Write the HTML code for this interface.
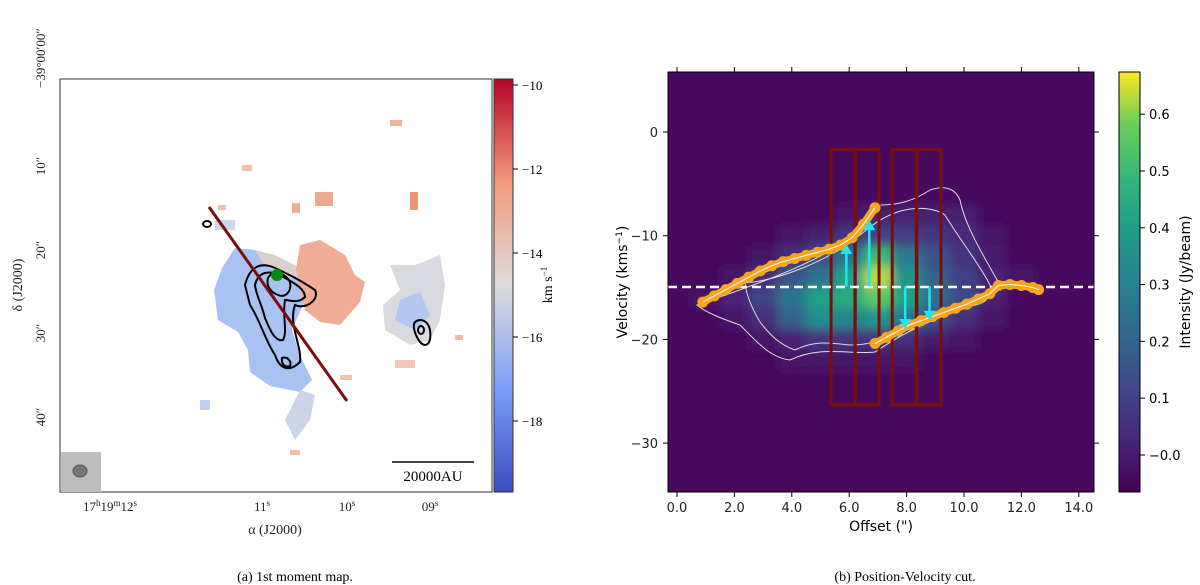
<!DOCTYPE html>
<html><head><meta charset="utf-8"><style>
body{margin:0;background:#fff;}
svg{display:block;}
.serif{font-family:"Liberation Serif","DejaVu Serif",serif;}
.sans{font-family:"DejaVu Sans","Liberation Sans",sans-serif;}
</style></head><body>
<svg id="fig" width="1200" height="585" viewBox="0 0 1200 585" xmlns="http://www.w3.org/2000/svg">
<defs>
<linearGradient id="cw" x1="0" y1="1" x2="0" y2="0">
<stop offset="0" stop-color="#3b4cc0"/><stop offset="0.25" stop-color="#7b9ff9"/><stop offset="0.5" stop-color="#dddcdc"/><stop offset="0.75" stop-color="#f49a7b"/><stop offset="1" stop-color="#b40426"/></linearGradient>
<linearGradient id="vir" x1="0" y1="1" x2="0" y2="0">
<stop offset="0" stop-color="#440154"/><stop offset="0.13" stop-color="#482878"/><stop offset="0.25" stop-color="#3e4989"/><stop offset="0.38" stop-color="#31688e"/><stop offset="0.5" stop-color="#26828e"/><stop offset="0.63" stop-color="#1f9e89"/><stop offset="0.75" stop-color="#35b779"/><stop offset="0.88" stop-color="#6ece58"/><stop offset="1" stop-color="#fde725"/></linearGradient>
<filter id="blur" x="-20%" y="-20%" width="140%" height="140%"><feGaussianBlur stdDeviation="5"/></filter>
<clipPath id="pvclip"><rect x="668" y="72" width="426" height="420"/></clipPath>
</defs>

<!-- LEFT PANEL -->
<g>
<rect x="60" y="79" width="432" height="413" fill="#fff" stroke="#333" stroke-width="1"/>
<g>
<path d="M235,248 L255,250 L270,262 L300,275 L305,300 L292,330 L300,355 L312,380 L300,392 L270,386 L250,372 L248,350 L238,332 L218,320 L214,290 L222,268 Z" fill="#a9c2f4"/>
<path d="M255,250 L275,255 L300,268 L300,280 L280,275 L262,262 Z" fill="#dcd0cc"/>
<path d="M300,245 L320,240 L345,255 L355,275 L365,282 L360,302 L340,325 L320,322 L305,310 L300,290 L296,270 Z" fill="#f0ad95"/>
<path d="M390,265 L415,265 L440,255 L445,285 L440,320 L430,340 L410,345 L385,330 L383,305 L400,290 Z" fill="#d9dae0"/>
<path d="M400,300 L420,292 L430,315 L415,330 L395,320 Z" fill="#b3c7f0"/>
<path d="M300,390 L315,395 L310,420 L295,440 L285,420 Z" fill="#cbd4ea"/>
<rect x="315" y="192" width="18" height="14" fill="#f0a88e"/>
<rect x="410" y="192" width="8" height="18" fill="#e89478"/>
<rect x="292" y="203" width="8" height="10" fill="#f0b098"/>
<rect x="242" y="165" width="10" height="6" fill="#f4c0aa"/>
<rect x="218" y="205" width="8" height="5" fill="#f4c0aa"/>
<rect x="215" y="220" width="20" height="10" fill="#cdd8f0"/>
<rect x="340" y="375" width="12" height="5" fill="#f4c4b0"/>
<rect x="395" y="360" width="20" height="8" fill="#f0c8b6"/>
<rect x="290" y="450" width="10" height="5" fill="#f2c0aa"/>
<rect x="200" y="400" width="10" height="10" fill="#c0cef0"/>
<rect x="390" y="120" width="12" height="6" fill="#f0b49c"/>
<rect x="455" y="335" width="8" height="5" fill="#f2bca6"/>
</g>
<g fill="none" stroke="#000" stroke-width="2">
<path d="M245,285 C250,265 262,262 275,268 C290,275 300,280 315,290 C320,300 305,310 295,305 C288,325 302,345 300,362 C290,372 280,370 275,355 C265,340 260,320 250,305 Z"/>
<path d="M255,285 C258,272 268,270 280,275 C292,282 305,288 305,297 C298,304 290,300 285,300 C282,318 288,330 283,340 C275,342 270,330 265,318 C262,305 256,295 255,285 Z"/>
<path d="M268,278 C272,270 285,272 290,282 C292,292 285,298 278,295 C270,292 266,285 268,278 Z"/>
<path d="M282,358 C288,356 292,362 290,366 C285,368 281,364 282,358 Z"/>
<path d="M415,322 C420,318 428,320 430,330 C432,345 425,348 420,342 C415,335 412,326 415,322 Z"/>
<ellipse cx="421" cy="330" rx="3" ry="4"/>
<ellipse cx="207" cy="224" rx="4" ry="3"/>
</g>
<line x1="209" y1="207" x2="347" y2="401" stroke="#7a0e0a" stroke-width="3"/>
<circle cx="277" cy="275" r="6" fill="#0a8a0a"/>
<rect x="61" y="452" width="40" height="40" fill="#bdbdbd"/>
<ellipse cx="80" cy="471" rx="7" ry="6" fill="#777" stroke="#555"/>
<line x1="392" y1="462" x2="474" y2="462" stroke="#000" stroke-width="1.5"/>
<text x="433" y="481" class="serif" font-size="15" text-anchor="middle">20000AU</text>
<g class="serif" font-size="13" fill="#222">
<text x="110" y="511" text-anchor="middle">17<tspan font-size="9" dy="-5">h</tspan><tspan dy="5">19</tspan><tspan font-size="9" dy="-5">m</tspan><tspan dy="5">12</tspan><tspan font-size="9" dy="-5">s</tspan></text>
<text x="262" y="511" text-anchor="middle">11<tspan font-size="9" dy="-5">s</tspan></text>
<text x="347" y="511" text-anchor="middle">10<tspan font-size="9" dy="-5">s</tspan></text>
<text x="430" y="511" text-anchor="middle">09<tspan font-size="9" dy="-5">s</tspan></text>
<text x="275" y="534" text-anchor="middle" font-size="14">α (J2000)</text>
</g>
<g class="serif" font-size="13" fill="#222">
<text transform="translate(45,88) rotate(-90)">−39°00′00″</text>
<text transform="translate(45,166) rotate(-90)" text-anchor="middle">10″</text>
<text transform="translate(45,250) rotate(-90)" text-anchor="middle">20″</text>
<text transform="translate(45,333) rotate(-90)" text-anchor="middle">30″</text>
<text transform="translate(45,417) rotate(-90)" text-anchor="middle">40″</text>
<text transform="translate(22,285) rotate(-90)" text-anchor="middle" font-size="14">δ (J2000)</text>
</g>
<rect x="494" y="79" width="19" height="413" fill="url(#cw)" stroke="#333"/>
<g id="cbL" class="serif" font-size="13"></g>
<text transform="translate(552,285) rotate(-90)" class="serif" font-size="14" text-anchor="middle">km s<tspan font-size="9" dy="-5">−1</tspan></text>
<text x="295" y="581" class="serif" font-size="14" text-anchor="middle">(a) 1st moment map.</text>
</g>

<!-- RIGHT PANEL -->
<g>
<g clip-path="url(#pvclip)">
<rect x="668" y="72" width="426" height="420" fill="#46095e"/>
<g id="heat" filter="url(#blur)"></g>
<path d="M697,305 C740,290 800,270 840,245 C860,230 870,215 880,205 C900,205 915,200 930,190 C945,185 955,188 960,200 C965,225 980,250 1000,285 C995,298 975,305 960,310 C930,320 900,335 875,352 C850,355 820,345 790,360 C770,358 755,340 740,325 C720,318 705,312 697,305 Z" fill="none" stroke="#ddd" stroke-width="1"/>
<path d="M745,283 C780,280 830,260 860,235 C875,222 890,213 905,210 C920,207 935,208 945,215 C960,240 980,265 990,285 C992,298 985,303 975,305 C950,312 920,318 900,325 C885,335 880,345 850,345 C830,343 815,340 795,350 C780,345 770,335 760,322 C750,305 746,293 745,283 Z" fill="none" stroke="#ddd" stroke-width="1"/>
<g id="pvmarks"></g>
</g>
<rect x="668" y="72" width="426" height="420" fill="none" stroke="#000" stroke-width="1"/>
<g id="pvaxes" class="sans" font-size="13" fill="#222"></g>
<text x="881" y="531" class="sans" font-size="14" text-anchor="middle">Offset (")</text>
<text transform="translate(627,282) rotate(-90)" class="sans" font-size="14" text-anchor="middle">Velocity (kms<tspan font-size="9" dy="-5">−1</tspan><tspan dy="5">)</tspan></text>
<rect x="1119" y="72" width="21" height="420" fill="url(#vir)" stroke="#000"/>
<g id="cbR" class="sans" font-size="13"></g>
<text transform="translate(1190,282) rotate(-90)" class="sans" font-size="14" text-anchor="middle">Intensity (Jy/beam)</text>
<text x="905" y="581" class="serif" font-size="14" text-anchor="middle">(b) Position-Velocity cut.</text>
</g>
</svg>
<script>
// ---- data ----
const velTicksL = [-10,-12,-14,-16,-18];
const offTicks = [0,2,4,6,8,10,12,14];
const velTicks = [0,-10,-20,-30];
const intTicks = [0.0,0.1,0.2,0.3,0.4,0.5,0.6];
const heatVel = [-8,-10,-12,-14,-16,-18,-20,-22];
const heatOff = [1,2,3,4,5,6,7,8,9,10,11,12];
const heatRows = [
 [0,0,0,0,0,0.03,0.05,0.05,0.05,0.05,0,0],
 [0,0,0,0.02,0.05,0.1,0.14,0.12,0.1,0.07,0.03,0],
 [0,0,0.03,0.08,0.16,0.28,0.5,0.3,0.18,0.1,0.04,0],
 [0,0.02,0.08,0.18,0.28,0.42,0.62,0.38,0.22,0.13,0.06,0.02],
 [0.02,0.06,0.14,0.28,0.42,0.45,0.55,0.42,0.26,0.15,0.06,0],
 [0,0.03,0.08,0.22,0.36,0.33,0.38,0.28,0.17,0.08,0.02,0],
 [0,0,0.02,0.06,0.1,0.1,0.1,0.08,0.04,0.02,0,0],
 [0,0,0,0.02,0.03,0.03,0.03,0.02,0,0,0,0]];
const upperOff = [0.9,1.3,1.7,2.1,2.5,2.9,3.3,3.7,4.1,4.5,4.9,5.3,5.7,6.1,6.5,6.9];
const upperVel = [-16.4,-15.8,-15.2,-14.6,-14.0,-13.4,-12.9,-12.5,-12.2,-11.9,-11.6,-11.3,-10.9,-10.2,-8.9,-7.3];
const lowerOff = [6.9,7.3,7.7,8.1,8.5,8.9,9.3,9.7,10.1,10.5,10.9,11.2,11.6,12.0,12.4,12.6];
const lowerVel = [-20.4,-19.8,-19.2,-18.6,-18.2,-17.8,-17.4,-17.0,-16.6,-16.1,-15.6,-14.8,-14.7,-14.8,-15.0,-15.2];
const boxOff = [5.37,6.2,7.5,8.36];
const boxWidth = 0.84;
const boxVelTop = -1.7, boxVelBottom = -26.3;
const arrowOff = [5.9,6.7,7.95,8.8];
const arrowFrom = [-14.9,-14.9,-14.9,-14.9];
const arrowTo = [-10.8,-8.5,-19.0,-18.2];
const sysVel = -14.95;

const NS='http://www.w3.org/2000/svg';
function mk(tag, attrs, parent){const e=document.createElementNS(NS,tag);for(const k in attrs)e.setAttribute(k,attrs[k]);parent.appendChild(e);return e;}
const X = o => 677 + o*28.7;
const Y = v => 132 - v*10.37;
const Ycl = v => 85 + (-10 - v)*42;
const Yci = i => 455 - i*568;
const vstops=[[0,'#440154'],[0.13,'#482878'],[0.25,'#3e4989'],[0.38,'#31688e'],[0.5,'#26828e'],[0.63,'#1f9e89'],[0.75,'#35b779'],[0.88,'#6ece58'],[1,'#fde725']];
function hex(h){return [1,3,5].map(i=>parseInt(h.substr(i,2),16));}
function viridis(i){let t=(i+0.02)/0.68;t=Math.max(0,Math.min(1,t));for(let k=1;k<vstops.length;k++){if(t<=vstops[k][0]){const a=vstops[k-1],b=vstops[k];const f=(t-a[0])/(b[0]-a[0]);const ca=hex(a[1]),cb=hex(b[1]);return 'rgb('+ca.map((c,j)=>Math.round(c+(cb[j]-c)*f)).join(',')+')';}}return vstops[8][1];}

// left colorbar ticks
const cbL=document.getElementById('cbL');
velTicksL.forEach(v=>{
 const t=mk('line',{x1:513,x2:518,y1:Ycl(v),y2:Ycl(v),stroke:'#000'},cbL);
 
 
 const tx=mk('text',{x:522,y:Ycl(v)+5},cbL);tx.textContent='−'+Math.abs(v);
 
 
});

// heatmap
const heat=document.getElementById('heat');
heatRows.forEach((row,r)=>row.forEach((val,c)=>{
 if(val<=0)return;
 const cell=mk('rect',{x:X(heatOff[c]-0.5),y:Y(heatVel[r]+1),width:28.7,height:20.74,fill:viridis(val)},heat);
 
 
}));

const pm=document.getElementById('pvmarks');
boxOff.forEach(o=>{
 const b=mk('rect',{x:X(o),y:Y(boxVelTop),width:boxWidth*28.7,height:Y(boxVelBottom)-Y(boxVelTop),fill:'none',stroke:'#7a0e0a','stroke-width':3},pm);
 
 
});
const dl=mk('line',{x1:668,x2:1094,y1:Y(sysVel),y2:Y(sysVel),stroke:'#fff','stroke-width':2.5,'stroke-dasharray':'9,5'},pm);


function branch(offs,vels,name){
 const pts=offs.map((o,i)=>X(o)+','+Y(vels[i])).join(' ');
 const pl=mk('polyline',{points:pts,fill:'none',stroke:'#f8a51c','stroke-width':8,'stroke-linejoin':'round'},pm);
 
 
 offs.forEach((o,i)=>{
  const c=mk('circle',{cx:X(o),cy:Y(vels[i]),r:5.5,fill:'#f8a51c'},pm);
  
  
 });
 const wl=mk('polyline',{points:pts,fill:'none',stroke:'#fff','stroke-width':1},pm);
 
 
}
branch(upperOff,upperVel,'upper-edge');
branch(lowerOff,lowerVel,'lower-edge');
arrowOff.forEach((o,i)=>{
 const x=X(o),y0=Y(arrowFrom[i]),y1=Y(arrowTo[i]);const d=y1<y0?1:-1;
 const a=mk('line',{x1:x,x2:x,y1:y0,y2:y1+d*8,stroke:'#1ee6f0','stroke-width':2.5},pm);
 
 
 const h=mk('polygon',{points:`${x-6},${y1+d*10} ${x+6},${y1+d*10} ${x},${y1}`,fill:'#1ee6f0'},pm);
 
 
});
const ax=document.getElementById('pvaxes');
offTicks.forEach(o=>{
 [[492,497],[72,67]].forEach(p=>{const t=mk('line',{x1:X(o),x2:X(o),y1:p[0],y2:p[1],stroke:'#000'},ax);
 
 });
 const tx=mk('text',{x:X(o),y:512,'text-anchor':'middle'},ax);tx.textContent=o.toFixed(1);
 
 
});
velTicks.forEach(v=>{
 [[668,663],[1094,1099]].forEach(p=>{const t=mk('line',{x1:p[0],x2:p[1],y1:Y(v),y2:Y(v),stroke:'#000'},ax);
 
 });
 const tx=mk('text',{x:658,y:Y(v)+5,'text-anchor':'end'},ax);tx.textContent=v<0?'−'+Math.abs(v):String(v);
 
 
});
const cbR=document.getElementById('cbR');
intTicks.forEach(i=>{
 const t=mk('line',{x1:1140,x2:1145,y1:Yci(i),y2:Yci(i),stroke:'#000'},cbR);
 
 
 const tx=mk('text',{x:1149,y:Yci(i)+5},cbR);tx.textContent=i===0?'−0.0':i.toFixed(1);
 
 
});
</script>
</body></html>
